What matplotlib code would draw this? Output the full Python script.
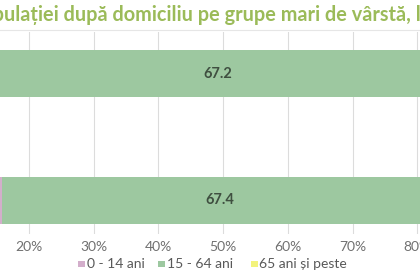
import numpy as np
import matplotlib.pyplot as plt
from matplotlib.lines import Line2D
from matplotlib.patches import Rectangle

# %% Data (100% stacked bars, values in percent)
categories = ["Rural", "Urban"]          # bottom, top
age_groups = ["0 - 14 ani", "15 - 64 ani", "65 ani și peste"]
v_0_14 = [15.8, 15.5]
v_15_64 = [67.4, 67.2]
v_65 = [16.8, 17.3]
ticks = [20, 30, 40, 50, 60, 70, 80]
tick_labels = [f"{t}%" for t in ticks]
title_prefix = "Structura pop"
title_mid = "ulației după domiciliu pe grupe mari de vârstă,"
title = title_prefix + title_mid + " la 1 ianuarie"

colors = ["#D3AECB", "#9DC8A0", "#F3F37C"]

plt.rcParams["font.family"] = ["Lato", "DejaVu Sans"]

W, H = 420, 280
fig = plt.figure(figsize=(4.2, 2.8), dpi=100)
# chart is cropped: plot area runs past the picture on both sides
ax = fig.add_axes([-100.4 / W, 46 / H, 647 / W, 202 / H])

y = np.arange(len(categories))
h = 0.37
left = np.zeros(len(categories))
for vals, col, name in zip([v_0_14, v_15_64, v_65], colors, age_groups):
    bars = ax.barh(y, vals, left=left, height=h, color=col, label=name, zorder=2)
    if name == "15 - 64 ani":
        ax.bar_label(bars, labels=[f"{v:.1f}" for v in vals], label_type="center",
                     fontsize=10.5, fontweight="bold", color="#3F4F40")
    left += np.array(vals)

ax.set_xlim(0, 100)
ax.set_ylim(-0.264, 1.327)
ax.set_xticks(ticks)
ax.set_xticklabels(tick_labels)
ax.set_yticks([])
ax.tick_params(axis="x", length=0, pad=5, labelsize=10, labelcolor="#707070")
ax.grid(axis="x", color="#DCDCDC", linewidth=0.8, zorder=0)
for s in ax.spines.values():
    s.set_visible(False)

r = fig.canvas.get_renderer()
def text_w(s, size, weight="bold"):
    t = fig.text(0, 0, s, fontsize=size, fontweight=weight)
    w = t.get_window_extent(renderer=r).width
    t.remove()
    return w

# title, partly cut off at the left edge:
# "ulației ... vârstă," runs from about x=4 to x=408 px in the picture
tsize = 12 * 404 / text_w(title_mid, 12)
pre_w = text_w(title_prefix + title_mid, tsize) - text_w(title_mid, tsize)
fig.text((4 - pre_w) / W, 1 - 21 / H, title, fontsize=tsize, fontweight="bold",
         color="#9BBB59", ha="left", va="baseline")
fig.add_artist(Line2D([0, 1], [1 - 30 / H] * 2, color="#E6E6E6", linewidth=0.8))

# legend row under the axis (square + label per age group)
sq_x = [78, 158, 251]
txt_x = [87, 167, 259]
ly = 1 - 264 / H
for name, col, sx, tx in zip(age_groups, colors, sq_x, txt_x):
    fig.add_artist(Rectangle((sx / W, ly - 3.2 / H), 6.5 / W, 6.5 / H,
                             facecolor=col, edgecolor="none"))
    fig.text(tx / W, ly, name, fontsize=10, color="#595959", ha="left", va="center")

fig.savefig("out.png", dpi=100)
